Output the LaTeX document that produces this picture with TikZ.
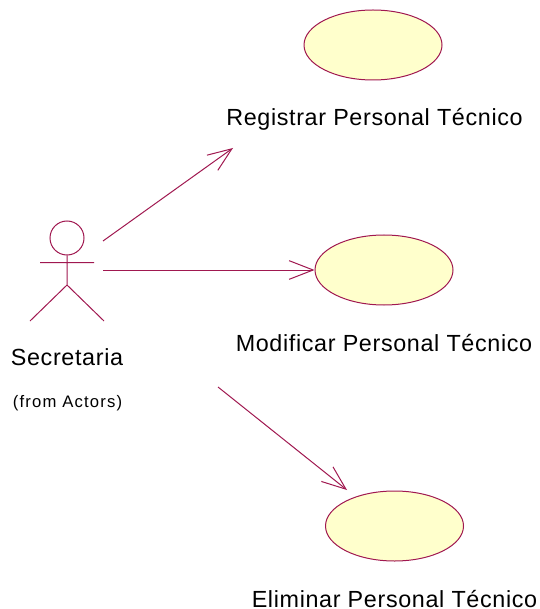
\documentclass[tikz,border=0pt]{standalone}
\usepackage{fontspec}
\setmainfont{Liberation Sans}
\usetikzlibrary{arrows.meta,shapes.geometric}
\definecolor{rosered}{HTML}{A01850}
\definecolor{roseyellow}{HTML}{FFFFCC}
\tikzset{
    usecase/.style={ellipse,draw=rosered,fill=roseyellow,line width=0.75pt,minimum width=103.5pt,minimum height=52.5pt,inner sep=0pt},
    actorline/.style={draw=rosered,line width=0.75pt},
    assoc/.style={draw=rosered,line width=0.75pt,-{Straight Barb[length=18pt,width=14pt]}},
    lbl/.style={anchor=base,inner sep=0pt,font=\fontsize{17.5}{20}\selectfont\addfontfeature{LetterSpace=2.8}},
    smalllbl/.style={anchor=base,inner sep=0pt,font=\fontsize{12.5}{14}\selectfont\addfontfeature{LetterSpace=7}}
}
\begin{document}
\begin{tikzpicture}[x=0.75pt,y=-0.75pt]
    \useasboundingbox (0,0) rectangle (539,609);
    % use cases
    \node (registrar) at (373,45) [usecase] {};
    \node (modificar) at (384,270) [usecase] {};
    \node (eliminar) at (394.5,526) [usecase] {};
    \node (registrarlbl) at (374.5,126) [lbl] {Registrar Personal Técnico};
    \node (modificarlbl) at (384,351) [lbl] {Modificar Personal Técnico};
    \node (eliminarlbl) at (394.5,607) [lbl] {Eliminar Personal Técnico};
    % actor
    \node (head) at (67,238) [circle,draw=rosered,line width=0.75pt,minimum size=25.5pt,inner sep=0pt] {};
    \coordinate (hip) at (67,285);
    \coordinate (armleft) at (40,262.5);
    \coordinate (armright) at (94,262.5);
    \coordinate (footleft) at (30,321);
    \coordinate (footright) at (104,321);
    \draw[actorline] (head.south) -- (hip) (armleft) -- (armright) (hip) -- (footleft) (hip) -- (footright);
    \node (secretaria) at (67,365) [lbl] {Secretaria};
    \node (actors) at (67.5,407) [smalllbl] {(from Actors)};
    % associations
    \coordinate (a1) at (103,241);
    \coordinate (b1) at (233,148);
    \coordinate (a2) at (103,270);
    \coordinate (a3) at (218,387);
    \coordinate (b3) at (347,490);
    \draw[assoc] (a1) -- (b1);
    \draw[assoc] (a2) -- (modificar.west);
    \draw[assoc] (a3) -- (b3);
\end{tikzpicture}
\end{document}
